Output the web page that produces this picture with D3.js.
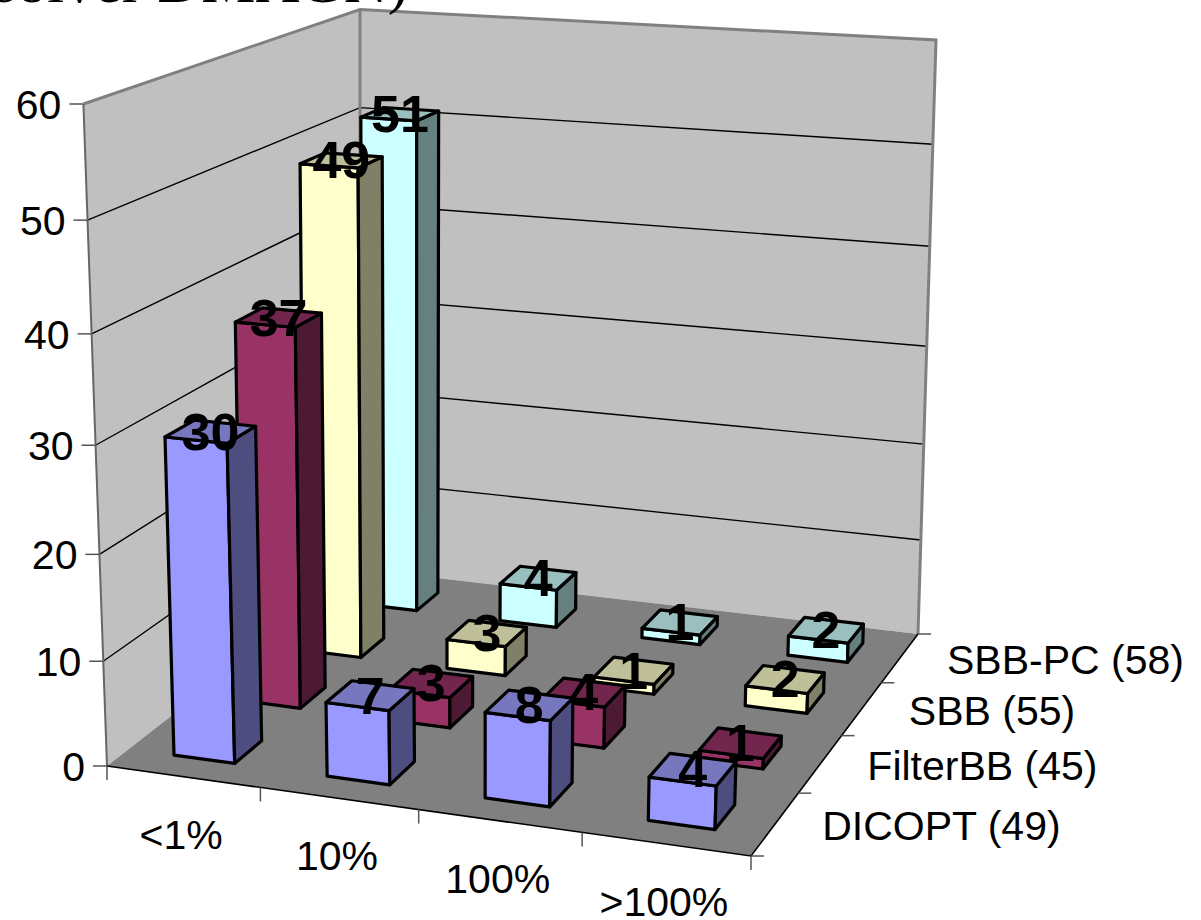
<!DOCTYPE html>
<html>
<head>
<meta charset="utf-8">
<style>
  html, body { margin: 0; padding: 0; background: #fff; }
  svg { display: block; }
  text { font-family: "Liberation Sans", Arial, sans-serif; fill: #000; }
</style>
<script src="https://cdnjs.cloudflare.com/ajax/libs/d3/7.9.0/d3.min.js"></script>
</head>
<body>
<svg id="chart" width="1201" height="920"></svg>
<script>
// Solver comparison, 3D column chart
const categories = ["<1%", "10%", "100%", ">100%"];
const seriesNames = ["DICOPT (49)", "FilterBB (45)", "SBB (55)", "SBB-PC (58)"];
const dicopt = [30, 7, 8, 4];
const filterBB = [37, 3, 4, 1];
const sbb = [49, 3, 1, 2];
const sbbPC = [51, 4, 1, 2];
const seriesValues = [dicopt, filterBB, sbb, sbbPC];
const valueTicks = [0, 10, 20, 30, 40, 50, 60];
const frontColors = ["#9999FF", "#993366", "#FFFFCC", "#CCFFFF"];
const sideColors = ["#4D4D80", "#4D1A33", "#808066", "#668080"];
const topColors = ["#7777BF", "#73264D", "#BFBF99", "#99BFBF"];

// Camera calibration: where the floor and ceiling corners of the unit box land on the page.
const floorCorners = [
  { u: 0, v: 0, x: 107, y: 766 },
  { u: 1, v: 0, x: 751, y: 856 },
  { u: 1, v: 1, x: 918, y: 634 },
  { u: 0, v: 1, x: 360, y: 569 }
];
const ceilingCorners = [
  { u: 0, v: 0, x: 83.4, y: 104 },
  { u: 1, v: 0, x: 775, y: 151 },
  { u: 1, v: 1, x: 936, y: 40 },
  { u: 0, v: 1, x: 360, y: 9.5 }
];
const heightBias = 0.94; // foreshortening of the vertical axis

function solveLinear(A, b) {
  const n = b.length;
  const M = A.map((row, i) => [...row, b[i]]);
  for (let c = 0; c < n; c++) {
    let p = c;
    for (let r = c + 1; r < n; r++) if (Math.abs(M[r][c]) > Math.abs(M[p][c])) p = r;
    [M[c], M[p]] = [M[p], M[c]];
    for (let r = 0; r < n; r++) {
      if (r === c) continue;
      const f = M[r][c] / M[c][c];
      for (let k = c; k <= n; k++) M[r][k] -= f * M[c][k];
    }
  }
  return M.map((row, i) => row[n] / row[i]);
}

// Homography of the unit square onto four page points.
function planeMap(corners) {
  const A = [], B = [];
  corners.forEach(p => {
    A.push([p.u, p.v, 1, 0, 0, 0, -p.x * p.u, -p.x * p.v]); B.push(p.x);
    A.push([0, 0, 0, p.u, p.v, 1, -p.y * p.u, -p.y * p.v]); B.push(p.y);
  });
  const [a, b, c, d, e, f, g, h] = solveLinear(A, B);
  return (u, v) => {
    const den = g * u + h * v + 1;
    return [(a * u + b * v + c) / den, (d * u + e * v + f) / den];
  };
}
const floorMap = planeMap(floorCorners);
const ceilingMap = planeMap(ceilingCorners);

function project(u, v, w) {
  const [x0, y0] = floorMap(u, v);
  const [x1, y1] = ceilingMap(u, v);
  const t = w * heightBias / (1 + (heightBias - 1) * w);
  return [x0 + (x1 - x0) * t, y0 + (y1 - y0) * t];
}

// Scales run in box coordinates; project() turns them into page positions.
const uScale = d3.scaleBand().domain(d3.range(categories.length)).range([0, 1]).paddingInner(0.6).paddingOuter(0.3);
const vScale = d3.scaleBand().domain(d3.range(seriesNames.length)).range([0, 1]).paddingInner(0.6).paddingOuter(0.3);
const uStep = d3.scaleLinear().domain([0, categories.length]).range([0, 1]);
const vStep = d3.scaleLinear().domain([0, seriesNames.length]).range([0, 1]);
const wScale = d3.scaleLinear().domain([0, 60]).range([0, 1]);

const svg = d3.select("#chart");
const line = d3.line();
const poly = pts => line(pts) + "Z";

// Walls and floor
const wallGroup = svg.append("g");
wallGroup.append("path")
  .attr("d", poly([project(0, 0, 0), project(0, 0, 1), project(0, 1, 1), project(0, 1, 0)]))
  .attr("fill", "#C0C0C0");
wallGroup.append("path")
  .attr("d", poly([project(0, 1, 0), project(0, 1, 1), project(1, 1, 1), project(1, 1, 0)]))
  .attr("fill", "#C0C0C0");
wallGroup.append("path")
  .attr("d", poly([project(0, 0, 0), project(1, 0, 0), project(1, 1, 0), project(0, 1, 0)]))
  .attr("fill", "#808080");

// Horizontal gridlines on both walls
const grid = svg.append("g").attr("stroke", "#000").attr("stroke-width", 1.4).attr("fill", "none");
valueTicks.filter(t => t > 0 && t < 60).forEach(t => {
  const w = wScale(t);
  grid.append("path").attr("d", line([project(0, 0, w), project(0, 1, w), project(1, 1, w)]));
});

// Wall outlines
const edges = svg.append("g").attr("stroke", "#808080").attr("fill", "none").attr("stroke-linejoin", "miter");
edges.append("path").attr("stroke-width", 3)
  .attr("d", line([project(0, 0, 1), project(0, 1, 1), project(1, 1, 1), project(1, 1, 0)]));
edges.append("path").attr("stroke-width", 3)
  .attr("d", line([project(0, 1, 1), project(0, 1, 0)]));
edges.append("path").attr("stroke-width", 2).attr("stroke", "#666")
  .attr("d", line([project(0, 0, 1), project(0, 0, 0)]));

// Heading running off the top of the canvas
svg.append("text")
  .attr("x", 408).attr("y", 2)
  .attr("text-anchor", "end")
  .style("font-family", '"Liberation Serif", serif')
  .style("font-size", "61px")
  .text("solver DMAGN)");

// Floor edges and axis ticks
const axes = svg.append("g").attr("stroke", "#000").attr("stroke-width", 1.6).attr("fill", "none");
axes.append("path").attr("d", line([project(0, 0, 0), project(1, 0, 0), project(1, 1, 0)]));

const tickLayer = svg.append("g").attr("stroke", "#555").attr("stroke-width", 1.5);
valueTicks.forEach(t => {
  const [x, y] = project(0, 0, wScale(t));
  tickLayer.append("line").attr("x1", x - 14).attr("x2", x).attr("y1", y).attr("y2", y);
  svg.append("text").attr("x", x - 22).attr("y", y + 15)
    .attr("text-anchor", "end").style("font-size", "41px").text(t);
});
d3.range(categories.length + 1).forEach(i => {
  const [x, y] = project(uStep(i), 0, 0);
  tickLayer.append("line").attr("x1", x).attr("x2", x).attr("y1", y).attr("y2", y + 14);
});
d3.range(seriesNames.length + 1).forEach(i => {
  const [x, y] = project(1, vStep(i), 0);
  tickLayer.append("line").attr("x1", x).attr("x2", x + 13).attr("y1", y).attr("y2", y);
});

// Category and series labels
categories.forEach((c, i) => {
  const [x, y] = project(uStep(i + 0.5), 0, 0);
  svg.append("text").attr("x", x - 2).attr("y", y + 72)
    .attr("text-anchor", "middle").style("font-size", "41px").text(c);
});
seriesNames.forEach((s, i) => {
  const [x, y] = project(1, vStep(i + 0.5), 0);
  svg.append("text").attr("x", x + 47).attr("y", y + 16)
    .attr("text-anchor", "start").style("font-size", "41px").text(s);
});

// Columns, painted from the back row forward and left to right
const barLayer = svg.append("g").attr("stroke", "#000").attr("stroke-width", 3.2).attr("stroke-linejoin", "round");
const labelLayer = svg.append("g");
d3.range(seriesNames.length).reverse().forEach(si => {
  const v0 = vScale(si), v1 = v0 + vScale.bandwidth();
  categories.forEach((c, ci) => {
    const u0 = uScale(ci), u1 = u0 + uScale.bandwidth();
    const value = seriesValues[si][ci];
    const w = wScale(value);
    barLayer.append("path").attr("fill", frontColors[si])
      .attr("d", poly([project(u0, v0, 0), project(u1, v0, 0), project(u1, v0, w), project(u0, v0, w)]));
    barLayer.append("path").attr("fill", sideColors[si])
      .attr("d", poly([project(u1, v0, 0), project(u1, v1, 0), project(u1, v1, w), project(u1, v0, w)]));
    barLayer.append("path").attr("fill", topColors[si])
      .attr("d", poly([project(u0, v0, w), project(u1, v0, w), project(u1, v1, w), project(u0, v1, w)]));
    const [lx, ly] = project((u0 + u1) / 2, (v0 + v1) / 2, w);
    labelLayer.append("text").attr("x", lx).attr("y", ly + 18)
      .attr("text-anchor", "middle")
      .style("font-size", "52px").style("font-weight", "bold")
      .text(value);
  });
});
</script>
</body>
</html>
